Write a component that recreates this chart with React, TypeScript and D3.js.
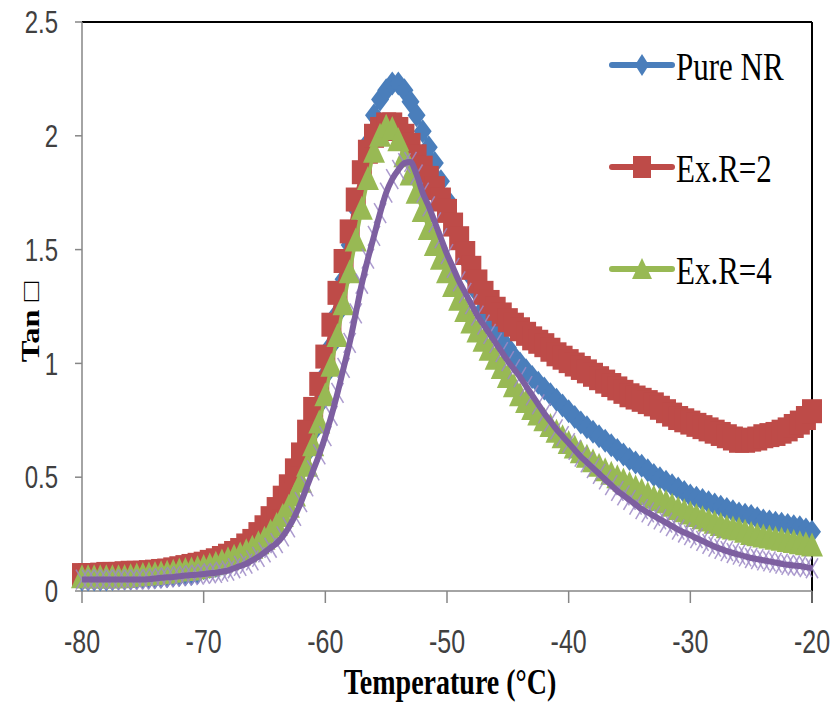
import React from 'react';
import * as d3 from 'd3';

const temperature = [
  -80,-79.5,-79,-78.5,-78,-77.5,-77,-76.5,-76,-75.5,
  -75,-74.5,-74,-73.5,-73,-72.5,-72,-71.5,-71,-70.5,
  -70,-69.5,-69,-68.5,-68,-67.5,-67,-66.5,-66,-65.5,
  -65,-64.5,-64,-63.5,-63,-62.5,-62,-61.5,-61,-60.5,
  -60,-59.5,-59,-58.5,-58,-57.5,-57,-56.5,-56,-55.5,
  -55,-54.5,-54,-53.5,-53,-52.5,-52,-51.5,-51,-50.5,
  -50,-49.5,-49,-48.5,-48,-47.5,-47,-46.5,-46,-45.5,
  -45,-44.5,-44,-43.5,-43,-42.5,-42,-41.5,-41,-40.5,
  -40,-39.5,-39,-38.5,-38,-37.5,-37,-36.5,-36,-35.5,
  -35,-34.5,-34,-33.5,-33,-32.5,-32,-31.5,-31,-30.5,
  -30,-29.5,-29,-28.5,-28,-27.5,-27,-26.5,-26,-25.5,
  -25,-24.5,-24,-23.5,-23,-22.5,-22,-21.5,-21,-20.5,
  -20];

const pureNR = [
  0.05,0.05,0.05,0.05,0.05,0.053,0.055,0.055,0.055,0.058,
  0.06,0.06,0.06,0.063,0.065,0.068,0.07,0.072,0.075,0.08,
  0.10,0.105,0.11,0.12,0.13,0.14,0.155,0.17,0.19,0.22,
  0.25,0.29,0.33,0.38,0.42,0.47,0.53,0.61,0.70,0.82,
  0.95,1.08,1.22,1.37,1.52,1.68,1.83,1.97,2.09,2.16,
  2.20,2.23,2.23,2.20,2.15,2.09,2.02,1.95,1.88,1.80,
  1.72,1.63,1.55,1.46,1.38,1.31,1.24,1.19,1.14,1.10,
  1.07,1.03,1.00,0.97,0.94,0.915,0.89,0.865,0.84,0.815,
  0.79,0.765,0.74,0.72,0.70,0.68,0.66,0.64,0.62,0.60,
  0.58,0.565,0.55,0.53,0.51,0.495,0.48,0.465,0.45,0.435,
  0.42,0.41,0.40,0.39,0.38,0.37,0.36,0.35,0.34,0.335,
  0.33,0.32,0.31,0.305,0.30,0.295,0.29,0.285,0.28,0.27,
  0.26];

const exR2 = [
  0.07,0.07,0.07,0.072,0.075,0.075,0.075,0.078,0.08,0.08,
  0.08,0.083,0.085,0.088,0.09,0.095,0.10,0.105,0.11,0.115,
  0.12,0.128,0.135,0.145,0.155,0.167,0.18,0.20,0.22,0.25,
  0.28,0.32,0.36,0.41,0.46,0.53,0.60,0.70,0.80,0.91,
  1.03,1.17,1.31,1.45,1.58,1.72,1.84,1.93,2.00,2.03,
  2.05,2.05,2.03,2.00,1.96,1.91,1.86,1.815,1.77,1.72,
  1.67,1.61,1.55,1.485,1.42,1.36,1.31,1.27,1.24,1.215,
  1.19,1.17,1.15,1.13,1.11,1.095,1.08,1.06,1.04,1.025,
  1.01,0.995,0.98,0.965,0.95,0.935,0.92,0.905,0.89,0.875,
  0.86,0.85,0.84,0.83,0.82,0.805,0.79,0.775,0.76,0.75,
  0.74,0.73,0.72,0.71,0.70,0.69,0.68,0.67,0.66,0.66,
  0.665,0.67,0.68,0.685,0.69,0.70,0.71,0.725,0.74,0.76,
  0.79];

const exR4 = [
  0.06,0.06,0.06,0.06,0.06,0.06,0.06,0.062,0.065,0.068,
  0.07,0.072,0.075,0.078,0.08,0.085,0.09,0.092,0.095,0.10,
  0.105,0.112,0.12,0.13,0.14,0.15,0.16,0.175,0.19,0.21,
  0.23,0.26,0.29,0.33,0.37,0.42,0.48,0.55,0.64,0.74,
  0.86,0.99,1.12,1.26,1.40,1.54,1.68,1.81,1.93,2.00,
  2.04,2.03,1.98,1.91,1.83,1.75,1.67,1.59,1.52,1.46,
  1.40,1.34,1.28,1.23,1.18,1.14,1.10,1.06,1.02,0.98,
  0.94,0.90,0.86,0.83,0.80,0.775,0.75,0.725,0.70,0.675,
  0.65,0.63,0.61,0.59,0.57,0.55,0.53,0.515,0.50,0.485,
  0.47,0.455,0.44,0.425,0.41,0.40,0.39,0.375,0.36,0.35,
  0.34,0.33,0.32,0.31,0.30,0.29,0.28,0.275,0.27,0.26,
  0.25,0.245,0.24,0.235,0.23,0.225,0.22,0.215,0.21,0.205,
  0.20];

const exR6 = [
  0.05,0.05,0.05,0.05,0.05,0.05,0.05,0.05,0.05,0.05,
  0.05,0.052,0.055,0.058,0.06,0.062,0.065,0.068,0.07,0.072,
  0.075,0.078,0.08,0.085,0.09,0.10,0.11,0.12,0.135,0.15,
  0.17,0.19,0.21,0.24,0.28,0.33,0.39,0.46,0.53,0.60,
  0.68,0.77,0.87,0.98,1.09,1.22,1.35,1.46,1.56,1.66,
  1.75,1.81,1.85,1.88,1.885,1.83,1.75,1.69,1.62,1.55,
  1.48,1.42,1.36,1.31,1.26,1.21,1.17,1.13,1.09,1.05,
  1.01,0.975,0.94,0.90,0.86,0.82,0.78,0.745,0.71,0.68,
  0.65,0.62,0.59,0.565,0.54,0.515,0.49,0.465,0.44,0.42,
  0.40,0.38,0.36,0.345,0.33,0.315,0.30,0.285,0.27,0.257,
  0.245,0.232,0.22,0.207,0.195,0.185,0.175,0.167,0.16,0.152,
  0.145,0.14,0.135,0.13,0.125,0.12,0.115,0.112,0.11,0.105,
  0.10];

const xTicks = [-80, -70, -60, -50, -40, -30, -20];
const yTicks = [0, 0.5, 1, 1.5, 2, 2.5];
const legendNames = ['Pure NR', 'Ex.R=2', 'Ex.R=4'];

const W = 831, H = 706;
const M = { left: 82, right: 812, top: 22, bottom: 591 };
const SY = 1.3;

type Marker = 'diamond' | 'square' | 'triangle' | 'x';

function MarkerShape({ kind, color, big }: { kind: Marker; color: string; big?: boolean }) {
  if (kind === 'diamond') return big
    ? <path d="M0,-12L9,0L0,12L-9,0Z" fill={color} />
    : <path d="M0,-11L7,0L0,11L-7,0Z" fill={color} />;
  if (kind === 'square') return big
    ? <rect x={-10} y={-12} width={20} height={24} fill={color} />
    : <rect x={-9} y={-11} width={18} height={22} fill={color} />;
  if (kind === 'triangle') return big
    ? <path d="M0,-13L11,11L-11,11Z" fill={color} />
    : <path d="M0,-11L10,10L-10,10Z" fill={color} />;
  return (
    <g stroke={color} strokeWidth={1.5} opacity={0.85}>
      <line x1={-6} y1={-10} x2={6} y2={10} />
      <line x1={-6} y1={10} x2={6} y2={-10} />
    </g>
  );
}

function StretchText({ x, y, children, ...rest }: any) {
  return (
    <g transform={`translate(${x},${y}) scale(1,${SY})`}>
      <text {...rest}>{children}</text>
    </g>
  );
}

export default function App() {
  const xs = d3.scaleLinear().domain([-80, -20]).range([M.left, M.right]);
  const ys = d3.scaleLinear().domain([0, 2.5]).range([M.bottom, M.top]);

  const series = [
    { name: legendNames[0], values: pureNR, color: '#4a7ebb', marker: 'diamond' as Marker, lw: 3.5 },
    { name: legendNames[1], values: exR2, color: '#be4b48', marker: 'square' as Marker, lw: 3.5 },
    { name: legendNames[2], values: exR4, color: '#98b954', marker: 'triangle' as Marker, lw: 3.5 },
    { name: 'Ex.R=6', values: exR6, color: '#7d5fa0', marker: 'x' as Marker, lw: 6 },
  ];

  const line = d3.line<[number, number]>()
    .x(d => xs(d[0]))
    .y(d => ys(d[1]))
    .curve(d3.curveMonotoneX);

  const legendY = [65, 167, 269];

  return (
    <svg width={W} height={H} style={{ position: 'absolute', left: 0, top: 0, background: '#fff' }}>
      <line x1={M.left} y1={M.top} x2={M.right} y2={M.top} stroke="#000" strokeWidth={2} />
      <line x1={M.right} y1={M.top} x2={M.right} y2={M.bottom + 12} stroke="#000" strokeWidth={2} />
      <line x1={M.left} y1={M.top} x2={M.left} y2={M.bottom} stroke="#868686" strokeWidth={1.5} />
      <line x1={M.left} y1={M.bottom} x2={M.right} y2={M.bottom} stroke="#868686" strokeWidth={1.5} />

      {yTicks.map(t => (
        <g key={'y' + t}>
          <line x1={M.left - 7} x2={M.left} y1={ys(t)} y2={ys(t)} stroke="#868686" strokeWidth={1.5} />
          <StretchText x={58} y={ys(t)} dy="0.36em" textAnchor="end" fontFamily="Liberation Sans, Arial, sans-serif" fontSize={24} fill="#404040">
            {t}
          </StretchText>
        </g>
      ))}
      {xTicks.map(t => (
        <g key={'x' + t}>
          <line x1={xs(t)} x2={xs(t)} y1={M.bottom} y2={M.bottom + 12} stroke="#868686" strokeWidth={1.5} />
          <StretchText x={xs(t)} y={653} textAnchor="middle" fontFamily="Liberation Sans, Arial, sans-serif" fontSize={25} fill="#404040">
            {t}
          </StretchText>
        </g>
      ))}

      {series.map(s => {
        const pts: [number, number][] = temperature.map((t, i) => [t, s.values[i]]);
        return (
          <g key={s.name}>
            {s.marker !== 'x' && <path d={line(pts) || ''} fill="none" stroke={s.color} strokeWidth={s.lw} />}
            {pts.map((p, i) => (
              <g key={i} transform={`translate(${xs(p[0])},${ys(p[1])})`}>
                <MarkerShape kind={s.marker} big color={s.marker === 'x' ? '#9d89c6' : s.color} />
              </g>
            ))}
            {s.marker === 'x' && <path d={line(pts) || ''} fill="none" stroke={s.color} strokeWidth={s.lw} />}
          </g>
        );
      })}

      {series.slice(0, 3).map((s, i) => (
        <g key={'lg' + i}>
          <line x1={612} x2={672} y1={legendY[i]} y2={legendY[i]} stroke={s.color} strokeWidth={6} strokeLinecap="round" />
          <g transform={`translate(642,${legendY[i]})`}>
            <MarkerShape kind={s.marker} color={s.color} />
          </g>
          <StretchText x={676} y={legendY[i] + 15} fontFamily="Liberation Serif, Times New Roman, serif" fontSize={31} fill="#000">
            {s.name}
          </StretchText>
        </g>
      ))}

      <g transform={`translate(39,322) scale(1,${SY}) rotate(-90)`}>
        <text textAnchor="middle" fontFamily="Liberation Serif, Times New Roman, serif" fontWeight="bold" fontSize={25} fill="#000">
          Tan □
        </text>
      </g>
      <g transform={`translate(450,694) scale(1,1.25)`}>
        <text textAnchor="middle" fontFamily="Liberation Serif, Times New Roman, serif" fontWeight="bold" fontSize={28} fill="#000">
          Temperature (°C)
        </text>
      </g>
    </svg>
  );
}
